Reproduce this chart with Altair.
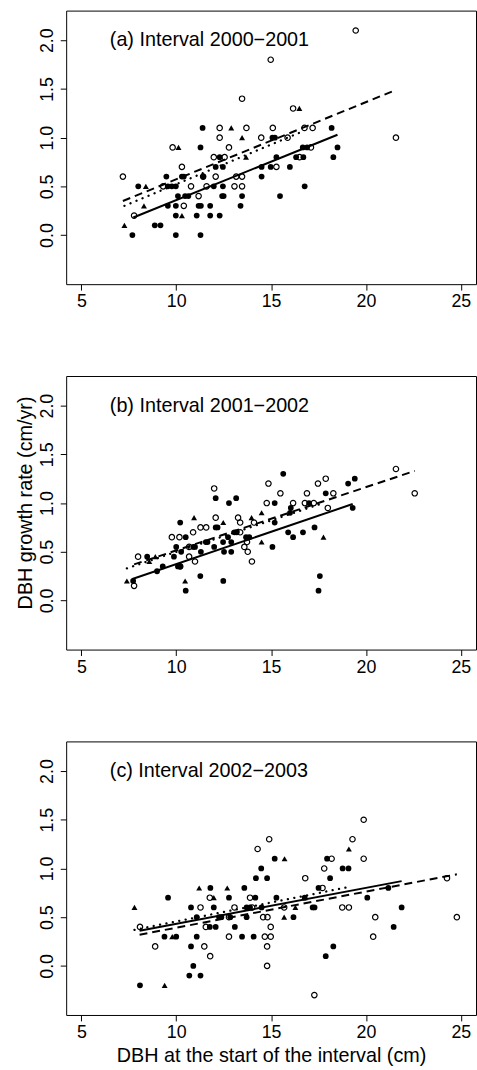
import altair as alt
import pandas as pd

FONT = "Liberation Sans"

# ---------------- data ----------------
X_TICKS = [5, 10, 15, 20, 25]
Y_TICKS = [0.0, 0.5, 1.0, 1.5, 2.0]
X_TITLE = "DBH at the start of the interval (cm)"
Y_TITLE = "DBH growth rate (cm/yr)"
LABELS = ["(a) Interval 2000\u22122001", "(b) Interval 2001\u22122002", "(c) Interval 2002\u22122003"]
LABEL_POS = (6.5, 2.0)

# panel (a)
a_filled = [(11.39, 1.1), (18.19, 1.1), (15.07, 1.0), (15.2, 1.0),
            (11.28, 0.9), (16.67, 0.9), (16.9, 0.9), (18.5, 0.9),
            (12.29, 0.8), (15.28, 0.8), (16.32, 0.8), (16.7, 0.8), (18.28, 0.8),
            (12.08, 0.7), (12.46, 0.7), (14.5, 0.7), (14.98, 0.7), (15.99, 0.7),
            (9.48, 0.6), (10.3, 0.6), (10.4, 0.6), (11.42, 0.6), (14.5, 0.6),
            (8.0, 0.5), (9.56, 0.5), (9.77, 0.5), (9.98, 0.5), (11.98, 0.5), (12.46, 0.5), (16.77, 0.5),
            (10.09, 0.4), (10.47, 0.4), (10.64, 0.4), (12.42, 0.4), (12.5, 0.4), (13.47, 0.4), (15.47, 0.4),
            (9.56, 0.3), (9.98, 0.3), (11.18, 0.3), (11.3, 0.3), (11.79, 0.3), (13.39, 0.3),
            (9.98, 0.2), (11.08, 0.2), (11.79, 0.2), (12.29, 0.2),
            (8.87, 0.1), (9.17, 0.1),
            (7.69, 0.0), (9.98, 0.0), (11.28, 0.0)]
a_open = [(19.46, 2.1), (14.98, 1.8), (13.47, 1.4), (16.16, 1.3),
          (12.29, 1.1), (13.7, 1.1), (15.09, 1.1), (16.76, 1.1), (17.19, 1.1),
          (12.29, 1.0), (14.48, 1.0), (15.87, 1.0), (21.58, 1.0),
          (9.81, 0.9), (12.78, 0.9), (17.1, 0.9),
          (11.98, 0.8), (12.55, 0.8), (16.5, 0.8),
          (10.3, 0.7), (15.28, 0.7),
          (7.19, 0.6), (11.42, 0.6), (12.08, 0.6), (13.16, 0.6), (13.47, 0.6),
          (9.31, 0.5), (10.78, 0.5), (11.6, 0.5), (13.07, 0.5), (13.47, 0.5),
          (11.18, 0.4), (10.4, 0.3), (7.78, 0.2)]
a_tri = [(16.49, 1.3), (12.9, 1.1), (13.47, 1.0), (10.12, 0.9), (13.68, 0.8),
         (8.4, 0.5), (8.3, 0.3), (10.3, 0.2), (7.27, 0.1)]
# fitted lines: (x start, y start, x end, y end)
a_solid = (7.74, 0.18, 18.5, 1.03)
a_dashed = (7.19, 0.35, 21.58, 1.49)
a_dotted = (7.27, 0.30, 16.49, 1.05)

# panel (b)
b_filled = [(15.64, 1.3), (19.41, 1.25), (19.06, 1.2), (17.88, 1.1),
            (12.08, 1.05), (13.16, 1.05),
            (12.78, 1.0), (15.19, 1.0), (17.0, 1.0),
            (16.04, 0.95), (19.3, 0.95), (16.0, 0.9),
            (10.21, 0.8), (15.19, 0.8),
            (12.08, 0.75), (12.18, 0.75), (17.29, 0.75),
            (13.07, 0.7), (13.19, 0.7), (15.9, 0.7), (16.68, 0.7),
            (10.5, 0.65), (12.73, 0.65), (13.68, 0.65), (13.85, 0.65), (16.16, 0.65),
            (11.56, 0.6), (11.65, 0.6), (12.47, 0.6), (12.9, 0.6),
            (10.0, 0.55), (10.9, 0.55), (10.99, 0.55), (12.0, 0.55), (15.07, 0.55),
            (10.26, 0.5), (11.3, 0.5), (12.52, 0.5), (12.9, 0.5),
            (8.47, 0.45), (9.88, 0.45),
            (9.29, 0.35), (10.09, 0.35), (10.21, 0.35),
            (8.99, 0.3), (11.27, 0.25), (17.57, 0.25),
            (7.73, 0.2), (12.48, 0.2), (10.5, 0.1), (17.5, 0.1)]
b_open = [(21.58, 1.35), (17.88, 1.25), (14.86, 1.2), (17.47, 1.2), (12.0, 1.15),
          (15.49, 1.1), (16.89, 1.1), (18.28, 1.1), (22.57, 1.1),
          (14.77, 1.0), (16.16, 1.0), (16.78, 1.0), (17.25, 1.0), (17.99, 0.95),
          (12.08, 0.85), (13.26, 0.85), (13.37, 0.8), (14.1, 0.8),
          (11.28, 0.75), (11.58, 0.75), (10.89, 0.7), (13.37, 0.7),
          (9.77, 0.65), (10.17, 0.65), (13.73, 0.6), (10.68, 0.55), (13.59, 0.55),
          (13.77, 0.5), (7.99, 0.45), (10.68, 0.45), (10.99, 0.4), (13.99, 0.4),
          (10.21, 0.35), (7.78, 0.15)]
b_tri = [(14.5, 0.9), (10.94, 0.85), (13.97, 0.85), (12.48, 0.8), (17.76, 0.65),
         (14.5, 0.6), (8.9, 0.45), (8.58, 0.4), (7.4, 0.2), (10.47, 0.2)]
b_solid = (7.69, 0.22, 19.3, 0.99)
b_dashed = (7.78, 0.37, 22.57, 1.33)
b_dotted = (7.4, 0.33, 17.76, 1.0)

# panel (c)
c_filled = [(15.19, 1.1), (17.95, 1.1), (14.48, 1.0), (18.77, 1.0), (19.08, 1.0),
            (14.2, 0.9), (14.79, 0.9), (18.11, 0.9),
            (11.8, 0.8), (13.59, 0.8), (17.5, 0.8), (21.18, 0.8),
            (9.57, 0.7), (12.78, 0.7), (14.17, 0.7), (15.28, 0.7), (16.77, 0.7), (20.07, 0.7),
            (10.78, 0.6), (11.98, 0.6), (13.71, 0.6), (13.89, 0.6), (14.5, 0.6), (17.19, 0.6), (17.29, 0.6), (21.88, 0.6),
            (11.08, 0.5), (12.26, 0.5), (12.38, 0.5), (12.85, 0.5), (13.71, 0.5), (16.18, 0.5),
            (11.77, 0.4), (12.08, 0.4), (13.09, 0.4), (21.46, 0.4),
            (9.38, 0.3), (10.0, 0.3), (11.08, 0.3), (13.47, 0.3), (14.08, 0.3),
            (10.78, 0.2), (18.28, 0.2), (17.88, 0.1), (10.9, 0.0),
            (10.69, -0.1), (11.28, -0.1), (8.09, -0.2)]
c_open = [(19.88, 1.5), (14.9, 1.3), (19.29, 1.3), (14.29, 1.2), (18.19, 1.1), (19.88, 1.1),
          (17.8, 1.0), (16.8, 0.9), (24.27, 0.9), (17.71, 0.8),
          (11.77, 0.7), (13.89, 0.7),
          (11.28, 0.6), (13.07, 0.6), (14.0, 0.6), (15.69, 0.6), (18.75, 0.6), (19.1, 0.6),
          (12.78, 0.5), (14.58, 0.5), (14.81, 0.5), (20.49, 0.5), (24.79, 0.5),
          (8.09, 0.4), (11.56, 0.4), (14.98, 0.4),
          (12.78, 0.3), (14.67, 0.3), (14.98, 0.3), (20.38, 0.3),
          (8.89, 0.2), (11.48, 0.2), (14.79, 0.2), (11.79, 0.1), (14.79, 0.0), (17.28, -0.3)]
c_tri = [(19.1, 1.2), (15.71, 1.1), (11.21, 0.8), (12.69, 0.8), (11.98, 0.7), (16.77, 0.7),
         (7.8, 0.6), (16.28, 0.6), (15.69, 0.5), (9.79, 0.3), (9.39, -0.2)]
c_solid = (8.07, 0.36, 21.88, 0.87)
c_dashed = (8.07, 0.32, 24.79, 0.94)
c_dotted = (7.8, 0.37, 19.1, 0.81)

# ---------------- build tables ----------------
PANELS = [
    (a_filled, a_open, a_tri, a_solid, a_dashed, a_dotted),
    (b_filled, b_open, b_tri, b_solid, b_dashed, b_dotted),
    (c_filled, c_open, c_tri, c_solid, c_dashed, c_dotted),
]

XDOM = [4.2, 25.8]
YDOM = [-0.504, 2.304]
W, H = 415, 277


def pts_df(pairs):
    return pd.DataFrame({"x": [p[0] for p in pairs], "y": [p[1] for p in pairs]})


def line_df(seg):
    return pd.DataFrame({"x": [seg[0]], "y": [seg[1]], "x2": [seg[2]], "y2": [seg[3]]})


def make_panel(i):
    filled, opn, tri, solid, dashed, dotted = PANELS[i]
    xs = alt.Scale(domain=XDOM, nice=False, zero=False)
    ys = alt.Scale(domain=YDOM, nice=False, zero=False)
    xax_kw = dict(values=X_TICKS, labelFlush=False, labelOverlap=False, labelPadding=3)
    if i == 2:
        xax_kw.update(title=X_TITLE, titleY=47, titleBaseline="alphabetic")
    else:
        xax_kw.update(title=None)
    yax_kw = dict(values=Y_TICKS, format=".1f", labelAngle=270, labelAlign="center",
                  labelBaseline="alphabetic", labelPadding=8, labelFlush=False, labelOverlap=False)
    if i == 1:
        yax_kw.update(title=Y_TITLE, titleAngle=270, titleX=-41, titleY=128,
                      titleAlign="center", titleBaseline="middle")
    else:
        yax_kw.update(title=None)
    xax = alt.Axis(**xax_kw)
    yax = alt.Axis(**yax_kw)
    X = alt.X("x:Q", scale=xs, axis=xax)
    Y = alt.Y("y:Q", scale=ys, axis=yax)

    l_filled = alt.Chart(pts_df(filled)).mark_point(
        shape="circle", filled=True, size=34, color="black", opacity=1
    ).encode(x=X, y=Y)
    l_open = alt.Chart(pts_df(opn)).mark_point(
        shape="circle", filled=False, size=30, color="black", strokeWidth=1.2, opacity=1
    ).encode(x=X, y=Y)
    l_tri = alt.Chart(pts_df(tri)).mark_point(
        shape="triangle-up", filled=True, size=36, color="black", opacity=1
    ).encode(x=X, y=Y)

    def rule(seg, **kw):
        return alt.Chart(line_df(seg)).mark_rule(color="black", **kw).encode(
            x=X, y=Y, x2="x2:Q", y2="y2:Q")

    l_solid = rule(solid, strokeWidth=2)
    l_dashed = rule(dashed, strokeWidth=2, strokeDash=[8, 5])
    l_dotted = rule(dotted, strokeWidth=2.3, strokeDash=[0.1, 6.5], strokeCap="round")

    lab = pd.DataFrame({"x": [LABEL_POS[0]], "y": [LABEL_POS[1]], "label": [LABELS[i]]})
    l_text = alt.Chart(lab).mark_text(
        align="left", baseline="middle", font=FONT, fontSize=20, color="black"
    ).encode(x=X, y=Y, text="label:N")

    return alt.layer(l_filled, l_open, l_tri, l_solid, l_dashed, l_dotted, l_text).properties(
        width=W, height=H)


chart = alt.vconcat(make_panel(0), make_panel(1), make_panel(2), spacing=93, bounds="flush").configure_view(
    stroke="black", strokeWidth=1
).configure_axis(
    domain=False, grid=False, ticks=True, tickSize=6, tickColor="black", tickWidth=1,
    labelFont=FONT, labelFontSize=18, labelColor="black",
    titleFont=FONT, titleFontSize=20, titleColor="black", titleFontWeight="normal"
).properties(
    padding={"left": 15, "top": 3, "right": 0, "bottom": 0}, background="white"
)

chart.save("out.html", embed_options={"renderer": "svg", "actions": False})
